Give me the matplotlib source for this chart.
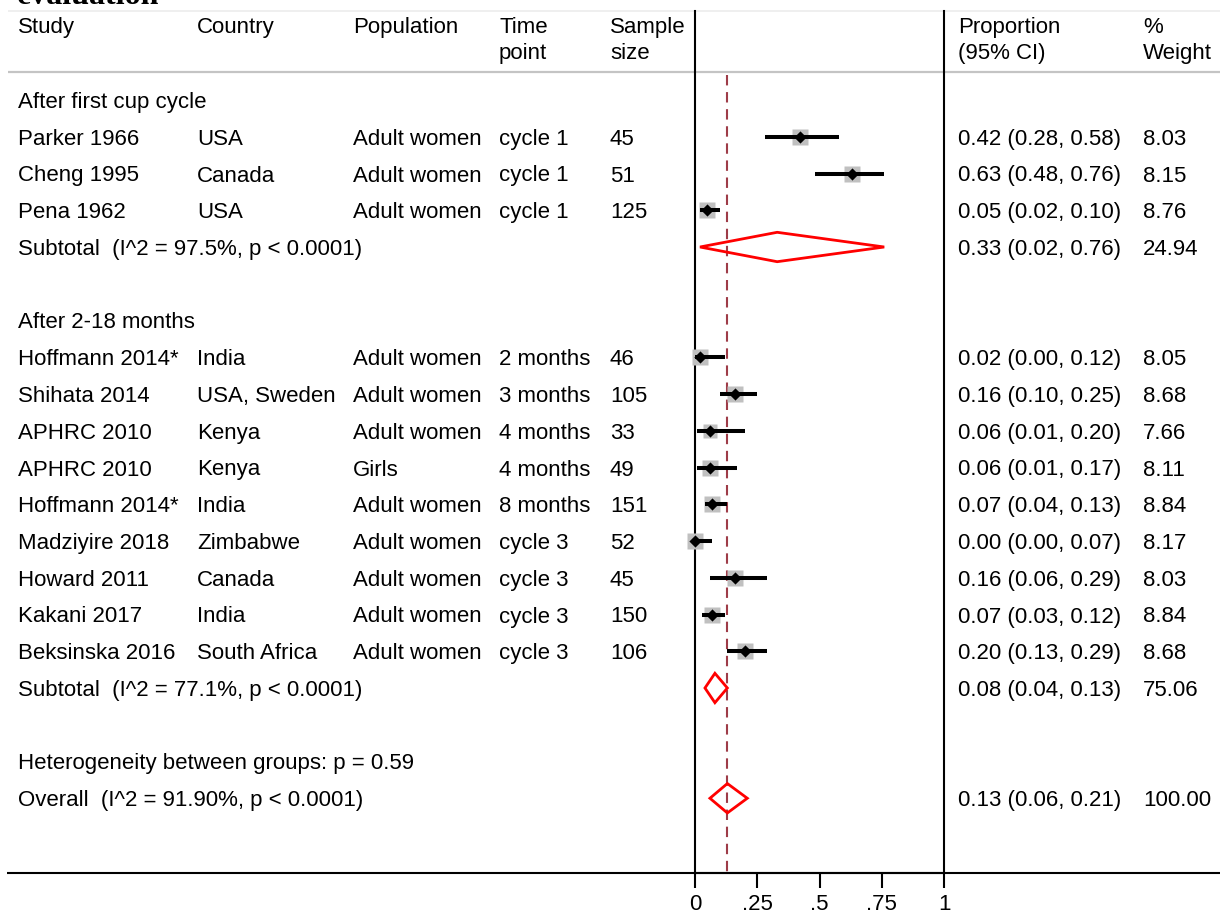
import matplotlib
matplotlib.use("Agg")
import matplotlib.pyplot as plt
from matplotlib.patches import Polygon

plt.rcParams['font.family'] = ['Liberation Sans', 'DejaVu Sans']

# ---------------- data ----------------
studies = ["Parker 1966", "Cheng 1995", "Pena 1962",
           "Hoffmann 2014*", "Shihata 2014", "APHRC 2010", "APHRC 2010",
           "Hoffmann 2014*", "Madziyire 2018", "Howard 2011", "Kakani 2017",
           "Beksinska 2016"]
countries = ["USA", "Canada", "USA",
             "India", "USA, Sweden", "Kenya", "Kenya", "India", "Zimbabwe",
             "Canada", "India", "South Africa"]
populations = ["Adult women", "Adult women", "Adult women",
               "Adult women", "Adult women", "Adult women", "Girls",
               "Adult women", "Adult women", "Adult women", "Adult women",
               "Adult women"]
time_points = ["cycle 1", "cycle 1", "cycle 1",
               "2 months", "3 months", "4 months", "4 months", "8 months",
               "cycle 3", "cycle 3", "cycle 3", "cycle 3"]
sample_sizes = [45, 51, 125, 46, 105, 33, 49, 151, 52, 45, 150, 106]
proportions = [0.42, 0.63, 0.05, 0.02, 0.16, 0.06, 0.06, 0.07, 0.00, 0.16, 0.07, 0.20]
ci_low = [0.28, 0.48, 0.02, 0.00, 0.10, 0.01, 0.01, 0.04, 0.00, 0.06, 0.03, 0.13]
ci_high = [0.58, 0.76, 0.10, 0.12, 0.25, 0.20, 0.17, 0.13, 0.07, 0.29, 0.12, 0.29]
weights = [8.03, 8.15, 8.76, 8.05, 8.68, 7.66, 8.11, 8.84, 8.17, 8.03, 8.84, 8.68]
groups = [0, 0, 0, 1, 1, 1, 1, 1, 1, 1, 1, 1]

group_titles = ["After first cup cycle", "After 2-18 months"]
subtotal_labels = ["Subtotal  (I^2 = 97.5%, p < 0.0001)",
                   "Subtotal  (I^2 = 77.1%, p < 0.0001)"]
subtotal_est = [0.33, 0.08]
subtotal_low = [0.02, 0.04]
subtotal_high = [0.76, 0.13]
subtotal_weight = [24.94, 75.06]

heterogeneity_label = "Heterogeneity between groups: p = 0.59"
overall_label = "Overall  (I^2 = 91.90%, p < 0.0001)"
overall_est, overall_low, overall_high, overall_weight = 0.13, 0.06, 0.21, 100.00

x_ticks = [0, 0.25, 0.5, 0.75, 1]
x_tick_labels = ["0", ".25", ".5", ".75", "1"]

# ---------------- layout ----------------
W, H = 1220, 915
ROW0_PX, ROW_STEP = 100.0, 36.75


def row_of(px):
    return (px - ROW0_PX) / ROW_STEP


Y_TOP, Y_BOT = row_of(0), row_of(H)
FS = 16
BASE = 8 / ROW_STEP          # baseline offset below row centre

fig = plt.figure(figsize=(W / 100, H / 100), dpi=100)

# canvas for text columns: x in pixels, y in row units
cv = fig.add_axes([0, 0, 1, 1])
cv.set_xlim(0, W)
cv.set_ylim(Y_BOT, Y_TOP)
cv.axis("off")

# forest panel: x in proportion units
ax = fig.add_axes([695 / W, 0, 249 / W, 1])
ax.set_xlim(0, 1)
ax.set_ylim(Y_BOT, Y_TOP)
ax.patch.set_alpha(0)
for s in ("top", "left", "right"):
    ax.spines[s].set_visible(False)
axis_row = row_of(873)
ax.spines["bottom"].set_position(("data", axis_row))
ax.spines["bottom"].set_linewidth(1.5)
ax.set_yticks([])
ax.set_xticks(x_ticks)
ax.set_xticklabels(x_tick_labels, fontsize=FS)
ax.tick_params(axis="x", length=11, width=1.5, pad=4, direction="out")

COLS = {"study": 18, "country": 197, "pop": 353, "time": 499, "n": 610,
        "prop": 958, "wt": 1143}


def put(x, row, s, **kw):
    cv.text(x, row + BASE, s, fontsize=FS, va="baseline", ha="left",
            color="black", **kw)


# title fragment at top edge
cv.text(17, row_of(4), "evaluation", fontsize=23, fontweight="bold",
        family="Liberation Serif", va="baseline", ha="left", color="black")

# faint top rule and header rule
cv.plot([8, W], [row_of(11), row_of(11)], color="#ececec", lw=1.2,
        solid_capstyle="butt")
cv.plot([8, W], [row_of(72), row_of(72)], color="#c4c4c4", lw=1.6,
        solid_capstyle="butt")
# bottom axis rule
cv.plot([7, W], [axis_row, axis_row], color="black", lw=1.5,
        solid_capstyle="butt")

# headers
h1, h2 = row_of(33) - BASE, row_of(59) - BASE
put(COLS["study"], h1, "Study")
put(COLS["country"], h1, "Country")
put(COLS["pop"], h1, "Population")
put(COLS["time"], h1, "Time")
put(COLS["time"], h2, "point")
put(COLS["n"], h1, "Sample")
put(COLS["n"], h2, "size")
put(COLS["prop"], h1, "Proportion")
put(COLS["prop"], h2, "(95% CI)")
put(COLS["wt"], h1, "%")
put(COLS["wt"], h2, "Weight")

# vertical frame lines at 0 and 1, dashed overall line
top_row, tick_row = row_of(11), row_of(888)
ax.plot([0, 0], [top_row, axis_row], color="black", lw=1.5, clip_on=False)
ax.plot([1, 1], [top_row, axis_row], color="black", lw=1.5, clip_on=False)
ax.plot([overall_est, overall_est], [row_of(75), axis_row], color="#9e3c48",
        lw=1.5, ls=(0, (5, 3.2)), clip_on=False)


def fmt_ci(e, l, h):
    return f"{e:.2f} ({l:.2f}, {h:.2f})"


def diamond(row, e, l, h):
    hh = 0.4
    ax.add_patch(Polygon([[l, row], [e, row - hh], [h, row], [e, row + hh]],
                         closed=True, fill=False, edgecolor="#ff0000",
                         lw=2.0, joinstyle="miter", clip_on=False, zorder=4))


row = 0
for g in range(2):
    put(COLS["study"], row, group_titles[g])
    row += 1
    for i in range(len(studies)):
        if groups[i] != g:
            continue
        put(COLS["study"], row, studies[i])
        put(COLS["country"], row, countries[i])
        put(COLS["pop"], row, populations[i])
        put(COLS["time"], row, time_points[i])
        put(COLS["n"], row, str(sample_sizes[i]))
        put(COLS["prop"], row, fmt_ci(proportions[i], ci_low[i], ci_high[i]))
        put(COLS["wt"], row, f"{weights[i]:.2f}")
        side_px = 5.4 * weights[i] ** 0.5
        ax.plot(proportions[i], row, marker="s", ms=side_px * 0.72,
                mfc="#c0c0c0", mec="none", clip_on=False, zorder=2)
        ax.plot([ci_low[i], ci_high[i]], [row, row], color="black", lw=2.9,
                solid_capstyle="butt", clip_on=False, zorder=3)
        ax.plot(proportions[i], row, marker=(4, 0, 0), ms=8.8, mfc="black",
                mec="none", clip_on=False, zorder=4)
        row += 1
    put(COLS["study"], row, subtotal_labels[g])
    put(COLS["prop"], row, fmt_ci(subtotal_est[g], subtotal_low[g], subtotal_high[g]))
    put(COLS["wt"], row, f"{subtotal_weight[g]:.2f}")
    diamond(row, subtotal_est[g], subtotal_low[g], subtotal_high[g])
    row += 2

put(COLS["study"], row, heterogeneity_label)
row += 1
put(COLS["study"], row, overall_label)
put(COLS["prop"], row, fmt_ci(overall_est, overall_low, overall_high))
put(COLS["wt"], row, f"{overall_weight:.2f}")
diamond(row, overall_est, overall_low, overall_high)

fig.savefig("out.png", dpi=100)
